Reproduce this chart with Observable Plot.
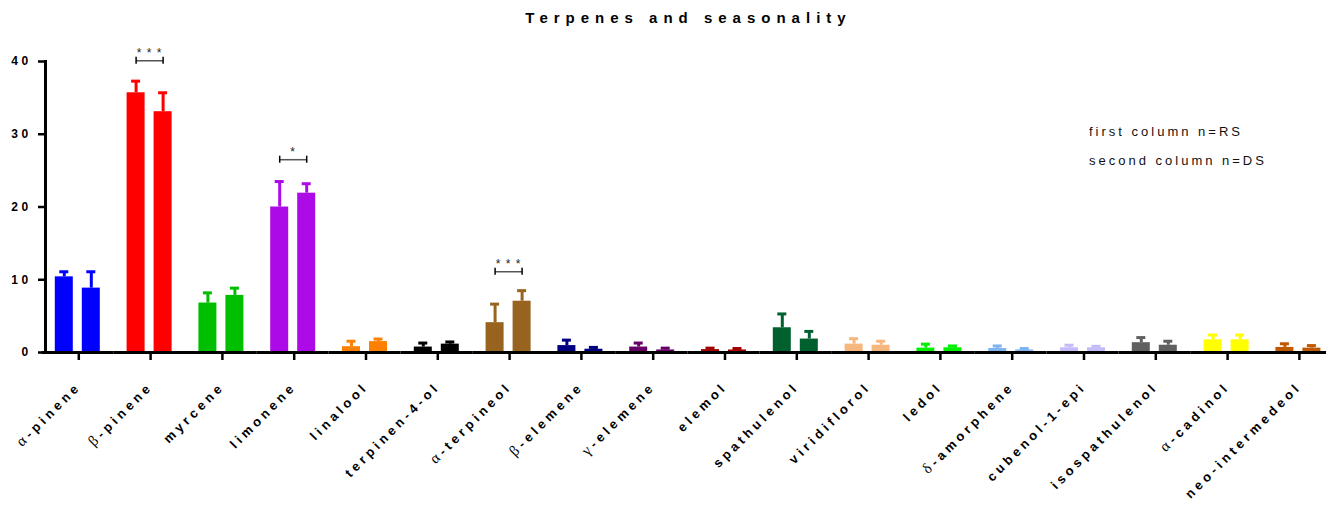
<!DOCTYPE html>
<html><head><meta charset="utf-8">
<script src="https://cdn.jsdelivr.net/npm/d3@7"></script>
<script src="https://cdn.jsdelivr.net/npm/@observablehq/plot@0.6"></script>
<style>
body{margin:0;background:#fff;overflow:hidden;font-family:"Liberation Sans",Arial,sans-serif}
#wrap{position:relative;width:1326px;height:508px;overflow:hidden}
#title{height:34px;line-height:36px;padding-left:51px;text-align:center;font-weight:bold;font-size:15px;letter-spacing:6px;color:#000}
.note{position:absolute;left:1089px;font-size:13px;letter-spacing:3px;color:#111}
#chart svg{display:block}
#chart g[aria-label="fx-axis tick label"] text{letter-spacing:3.8px}
#chart g[aria-label="y-axis tick label"] text{letter-spacing:3.4px}
#chart g[aria-label="text"] text{letter-spacing:1px}
</style></head><body>
<div id="wrap">
<div id="title">Terpenes and seasonality</div>
<div id="chart"></div>
<div class="note" style="top:124px">first column n=RS</div>
<div class="note" style="top:153px">second column n=DS</div>
</div>
<script>
const categories = ["α-pinene","β-pinene","myrcene","limonene","linalool","terpinen-4-ol","α-terpineol","β-elemene","γ-elemene","elemol","spathulenol","viridiflorol","ledol","δ-amorphene","cubenol-1-epi","isospathulenol","α-cadinol","neo-intermedeol"];
const colors = ["#0000ff","#ff0000","#00bf00","#ac0ae6","#ff8000","#000000","#98631f","#000080","#660066","#a30000","#00602e","#f5b77e","#00f000","#80b4f0","#c4bcf8","#606060","#ffff00","#c05800"];
const series = ["RS","DS"];
const rsMean = [10.4,35.7,6.8,20.0,0.8,0.75,4.1,0.95,0.75,0.4,3.4,1.15,0.6,0.55,0.65,1.35,1.75,0.7];
const rsSD   = [0.7,1.6,1.4,3.5,0.75,0.55,2.55,0.75,0.55,0.2,1.9,0.75,0.55,0.35,0.35,0.7,0.65,0.5];
const dsMean = [8.85,33.1,7.85,21.9,1.5,1.15,7.05,0.45,0.35,0.35,1.85,1.0,0.65,0.35,0.65,1.0,1.75,0.6];
const dsSD   = [2.25,2.6,1.0,1.3,0.35,0.3,1.45,0.25,0.25,0.2,1.05,0.55,0.25,0.2,0.2,0.55,0.65,0.35];
const sigCategories = ["β-pinene","limonene","α-terpineol"];
const sigLabels = ["* * *","*","* * *"];
const sigHeights = [40.1,26.5,11.1];

const rows = [];
categories.forEach((c, i) => {
  rows.push({cat: c, series: "RS", mean: rsMean[i], upper: rsMean[i] + rsSD[i], color: colors[i]});
  rows.push({cat: c, series: "DS", mean: dsMean[i], upper: dsMean[i] + dsSD[i], color: colors[i]});
});
const sig = sigCategories.map((c, i) => ({cat: c, label: sigLabels[i], h: sigHeights[i]}));

const chart = Plot.plot({
  width: 1326,
  height: 474,
  marginLeft: 45,
  marginRight: 0,
  marginTop: 27,
  marginBottom: 156,
  style: {fontFamily: "'Liberation Sans', Arial, sans-serif", color: "#000", background: "#fff"},
  fx: {domain: categories, range: [41.4, 1333.8], paddingInner: 0, paddingOuter: 0, round: false, label: null},
  x: {domain: series, paddingInner: 1/3, paddingOuter: 0.496, round: false, axis: null},
  y: {domain: [0, 40], ticks: [0, 10, 20, 30, 40], label: null},
  marks: [
    Plot.barY(rows, {fx: "cat", x: "series", y: "mean", fill: "color"}),
    Plot.ruleX(rows, {fx: "cat", x: "series", y1: "mean", y2: "upper", stroke: "color", strokeWidth: 3}),
    Plot.tickY(rows, {fx: "cat", x: "series", y: "upper", stroke: "color", strokeWidth: 3, insetLeft: 4.5, insetRight: 4.5}),
    Plot.link(sig, {fx: "cat", x1: d => "RS", x2: d => "DS", y1: "h", y2: "h", stroke: "#555", strokeWidth: 1.5}),
    Plot.ruleX(sig, {fx: "cat", x: d => "RS", y1: "h", y2: "h", insetTop: -3.5, insetBottom: -3.5, stroke: "#000", strokeWidth: 1.5}),
    Plot.ruleX(sig, {fx: "cat", x: d => "DS", y1: "h", y2: "h", insetTop: -3.5, insetBottom: -3.5, stroke: "#000", strokeWidth: 1.5}),
    Plot.text(sig, {fx: "cat", y: "h", text: "label", dy: -8, fontSize: 12, fill: "#222"}),
    Plot.ruleY([0], {stroke: "#000", strokeWidth: 3}),
    Plot.frame({anchor: "left", facetAnchor: "left", dx: 3.6, stroke: "#000", strokeWidth: 3}),
    Plot.axisY({ticks: [0, 10, 20, 30, 40], dx: 3.6, tickSize: 7, tickPadding: 7, strokeWidth: 2.5, fontSize: 12, fontWeight: "bold", label: null}),
    Plot.axisFx({anchor: "bottom", tickSize: 8, tickPadding: 24, dx: 1, strokeWidth: 2.5, tickRotate: -45, fontSize: 13, fontWeight: "bold", label: null})
  ]
});
document.getElementById("chart").appendChild(chart);

// Greek prefixes drawn in a light serif face, as in the reference
d3.select(chart).selectAll('g[aria-label="fx-axis tick label"] text').each(function() {
  const t = this.textContent;
  if (/^[α-ωΑ-Ω]/.test(t)) {
    const sel = d3.select(this);
    sel.text(null);
    sel.append("tspan").attr("font-family", "'Liberation Serif', serif").attr("font-weight", "normal").attr("font-size", 15).text(t[0]);
    sel.append("tspan").text(t.slice(1));
  }
});
</script>
</body></html>
